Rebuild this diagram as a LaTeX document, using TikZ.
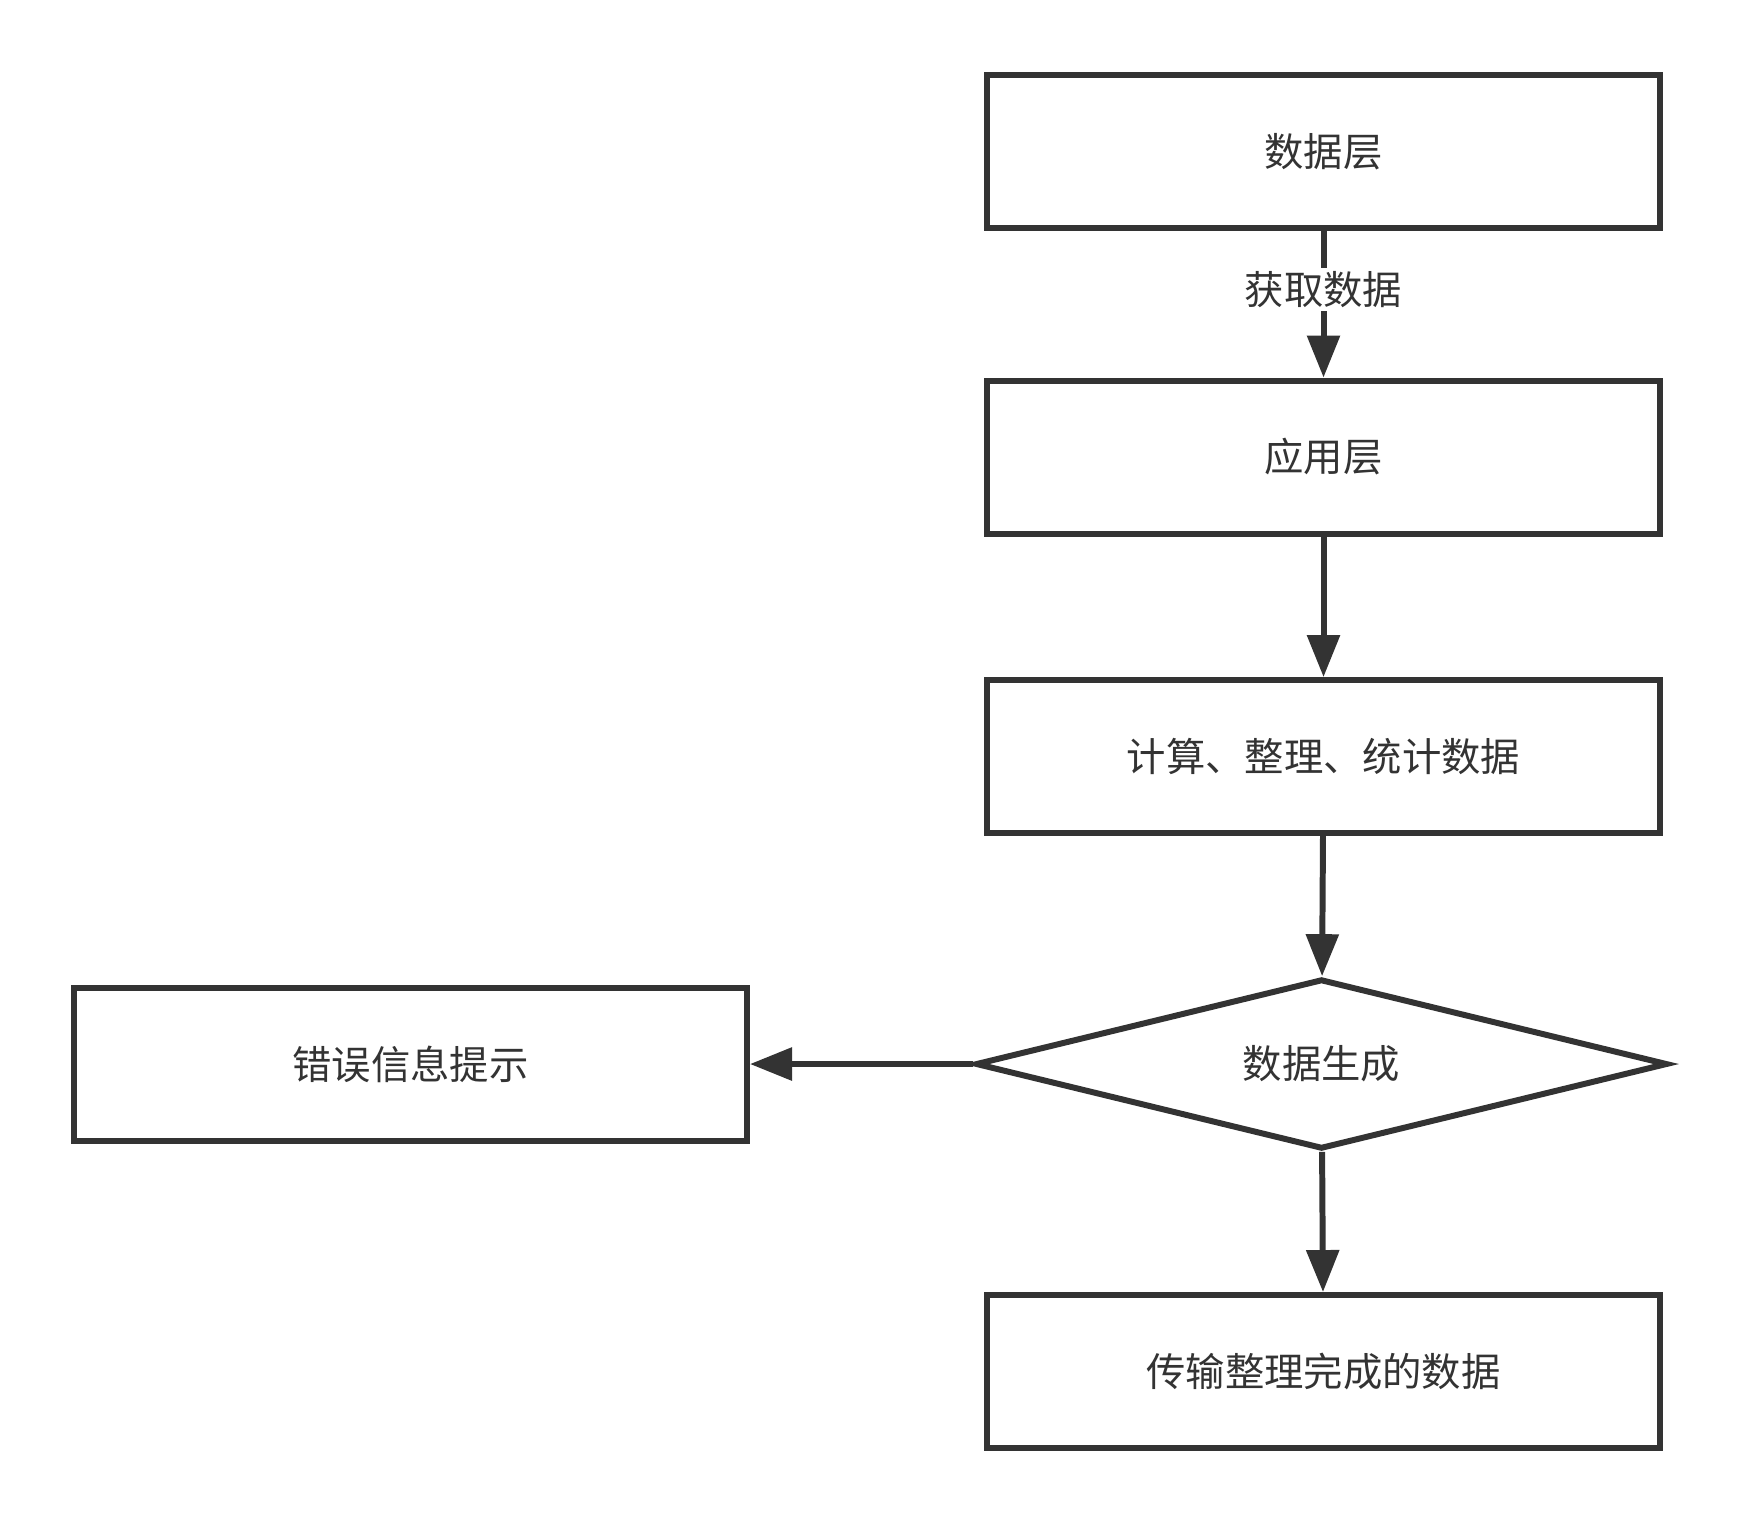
\documentclass[tikz,border=0pt]{standalone}
\usepackage{fontspec}
\setmainfont{Noto Sans CJK SC}
\usetikzlibrary{arrows.meta,shapes.geometric}
\definecolor{ink}{HTML}{333333}
\tikzset{
  box/.style={draw=ink, line width=1.7pt, minimum width=6.73cm, minimum height=1.53cm, text=ink, font=\fontsize{11.2}{13}\selectfont},
  decision/.style={draw=ink, line width=1.7pt, diamond, aspect=4.1, minimum width=6.92cm, minimum height=1.70cm, inner sep=0pt, text=ink, font=\fontsize{11.2}{13}\selectfont},
  link/.style={draw=ink, line width=1.7pt, -{Triangle[width=0.32cm,length=0.42cm]}}
}
\begin{document}
\begin{tikzpicture}
\useasboundingbox (0,0) rectangle (17.47,-15.23);
\node[box] (data) at (13.235,-1.515){数据层};
\node[box] (app) at (13.235,-4.57){应用层};
\node[box] (calc) at (13.235,-7.565){计算、整理、统计数据};
\node[decision] (gen) at (13.215,-10.64){数据生成};
\node[box] (err) at (4.105,-10.64){错误信息提示};
\node[box] (out) at (13.235,-13.715){传输整理完成的数据};
\draw[link](data)--node[pos=0.4, fill=white, text=ink, inner sep=1pt, font=\fontsize{11.2}{13}\selectfont]{获取数据}(app);
\draw[link](app)--(calc);
\draw[link](calc)--(gen);
\draw[link](gen)--(err);
\draw[link](gen)--(out);
\end{tikzpicture}
\end{document}
